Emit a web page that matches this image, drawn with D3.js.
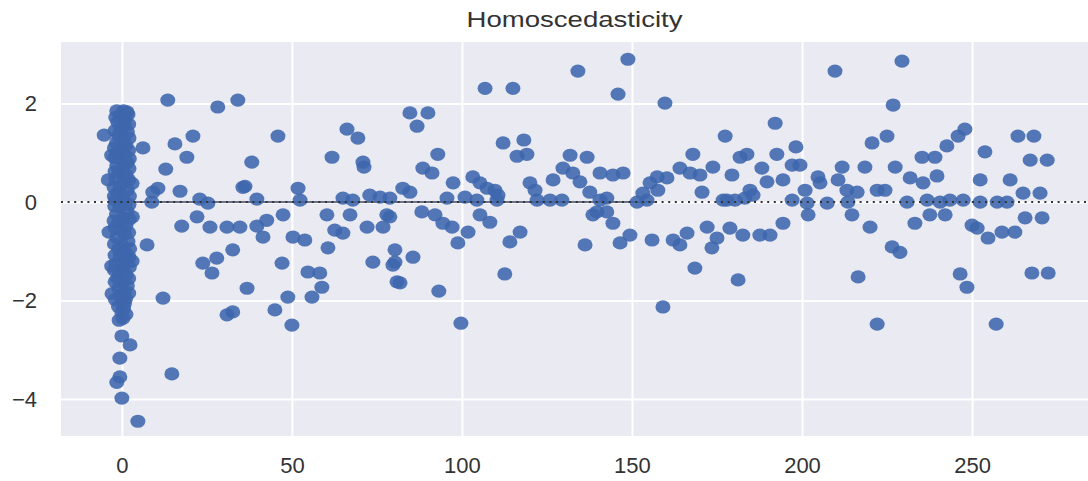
<!DOCTYPE html>
<html>
<head>
<meta charset="utf-8">
<script src="https://cdn.jsdelivr.net/npm/d3@7"></script>
<style>
  body { margin: 0; background: #fff; }
  svg text { font-family: "Liberation Sans", Arial, sans-serif; fill: #333; }
</style>
</head>
<body>
<svg id="chart"></svg>
<script>
const width = 1088
const height = 481
const margin = { top: 42, right: 0, bottom: 45, left: 61 }

const title = 'Homoscedasticity'
const xTicks = [0, 50, 100, 150, 200, 250]
const yTicks = [-4, -2, 0, 2]

// dense column of residuals near x = 0
const clusterPoints = [
  [-1.5, 1.85], [0.5, 1.85], [1.5, 1.83], [-0.5, 1.75], [1.0, 1.70], [-1.2, 1.62], [0.8, 1.55],
  [-0.3, 1.48], [1.6, 1.42], [-5.2, 1.36], [-1.0, 1.35], [0.6, 1.28], [-1.6, 1.20], [1.2, 1.15],
  [-0.2, 1.08], [-1.4, 1.00], [0.9, 0.95], [-0.6, 0.88], [1.5, 0.80], [-1.5, 0.74], [0.3, 0.68],
  [-0.8, 0.60], [1.2, 0.55], [-1.8, 0.48], [-4.0, 0.45], [0.5, 0.40], [-0.5, 0.32], [1.6, 0.25],
  [-1.3, 0.18], [0.2, 0.10], [-1.9, 0.04], [1.0, -0.02], [-0.6, -0.10], [1.5, -0.18], [-1.6, -0.25],
  [0.4, -0.32], [-0.9, -0.40], [1.2, -0.48], [-3.8, -0.61], [-0.3, -0.56], [0.8, -0.65], [-1.5, -0.72],
  [1.8, -0.80], [0.0, -0.88], [-1.0, -0.95], [1.0, -1.02], [-0.4, -1.10], [1.5, -1.18], [-1.7, -1.25],
  [0.5, -1.32], [-0.7, -1.40], [1.2, -1.48], [-1.3, -1.55], [0.2, -1.62], [1.6, -1.70], [-0.9, -1.76],
  [0.7, -1.82], [-2.9, -1.86], [-0.2, -1.90], [1.1, -1.96], [0.0, -2.05], [0.5, -2.15], [0.0, -2.25],
  [0.3, -2.36], [0.0, -2.72], [2.4, -2.90], [-0.6, -3.17], [-0.6, -3.55], [-1.5, -3.66], [0.0, -3.98],
  [1.8, 1.78], [-1.8, 1.72], [2.0, 1.58], [-2.0, 1.45], [2.1, 1.30], [-2.2, 1.10], [2.0, 1.05],
  [-2.1, 0.90], [2.2, 0.88], [-2.0, 0.62], [2.1, 0.68], [-2.3, 0.30], [2.0, 0.45], [-2.2, 0.12],
  [2.2, 0.12], [-2.1, -0.08], [2.1, -0.05], [-2.3, -0.38], [2.2, -0.35], [-2.0, -0.52], [2.0, -0.62],
  [-2.2, -0.85], [2.3, -0.95], [-2.0, -1.08], [2.1, -1.12], [-2.2, -1.38], [2.2, -1.32], [-2.0, -1.62],
  [2.0, -1.55], [-1.9, -1.98], [2.0, -1.85], [-1.0, -2.12], [1.2, -2.28], [-0.8, -2.40], [0.8, -2.05],
  [3.0, 0.38], [3.1, -0.30], [3.0, -1.20], [-3.0, 0.95], [-3.0, -1.30]
]

// residuals spread over the rest of the fitted range
const spreadPoints = [
  [6.2, 1.10], [13.5, 2.07], [28.2, 1.93], [34.1, 2.07], [15.6, 1.18], [20.9, 1.34], [45.9, 1.34],
  [66.2, 1.48], [69.4, 1.30], [19.1, 0.91], [38.2, 0.81], [61.8, 0.91], [70.9, 0.81], [12.9, 0.67],
  [71.2, 0.71], [10.6, 0.28], [9.1, 0.20], [17.1, 0.22], [36.2, 0.32], [51.8, 0.28], [8.8, 0.00],
  [22.9, 0.06], [25.3, -0.02], [39.7, 0.06], [65.0, 0.08], [72.9, 0.14], [75.9, 0.10], [78.8, 0.08],
  [67.9, 0.04], [52.4, 0.04], [35.6, 0.30], [17.6, -0.49], [22.1, -0.30], [25.9, -0.51], [30.9, -0.51],
  [34.7, -0.51], [39.7, -0.49], [42.6, -0.37], [41.5, -0.71], [47.4, -0.26], [60.3, -0.26], [67.1, -0.26],
  [72.1, -0.51], [76.8, -0.51], [78.8, -0.30], [50.3, -0.71], [53.8, -0.77], [62.6, -0.57], [65.0, -0.63],
  [60.6, -0.93], [7.4, -0.87], [32.6, -0.97], [23.8, -1.24], [27.9, -1.14], [26.5, -1.44], [47.1, -1.24],
  [73.8, -1.22], [80.3, -1.22], [54.7, -1.42], [58.2, -1.44], [58.8, -1.73], [55.9, -1.93], [36.8, -1.75],
  [12.1, -1.95], [48.8, -1.93], [80.9, -1.62], [30.9, -2.29], [32.6, -2.23], [45.0, -2.19], [50.0, -2.50],
  [14.7, -3.49], [4.7, -4.45],
  [134.1, 2.66], [148.8, 2.90], [106.8, 2.31], [115.0, 2.31], [145.9, 2.19], [159.7, 2.01], [84.7, 1.81],
  [90.0, 1.81], [86.8, 1.54], [92.9, 0.97], [112.1, 1.20], [118.2, 1.26], [116.2, 0.93], [119.1, 0.97],
  [131.8, 0.95], [136.8, 0.91], [167.9, 0.97], [177.4, 1.34], [181.8, 0.91], [88.5, 0.69], [91.2, 0.59],
  [82.6, 0.28], [84.7, 0.20], [97.4, 0.39], [103.2, 0.51], [105.3, 0.39], [107.4, 0.28], [109.7, 0.24],
  [110.6, 0.14], [120.0, 0.39], [121.5, 0.24], [126.8, 0.45], [129.7, 0.69], [132.6, 0.59], [134.7, 0.41],
  [140.6, 0.59], [144.4, 0.55], [147.4, 0.59], [137.6, 0.20], [140.6, 0.04], [142.6, 0.08], [95.6, 0.08],
  [100.9, 0.10], [104.4, 0.04], [110.3, 0.04], [122.1, 0.04], [125.9, 0.04], [129.4, 0.04], [151.5, 0.00],
  [154.4, 0.04], [155.3, 0.39], [157.4, 0.51], [160.3, 0.49], [164.1, 0.69], [167.1, 0.59], [170.0, 0.55],
  [173.8, 0.71], [179.4, 0.55], [157.6, 0.24], [170.6, 0.20], [177.9, 0.04], [180.3, 0.04], [77.9, -0.26],
  [88.2, -0.20], [92.1, -0.26], [94.4, -0.43], [97.1, -0.51], [105.3, -0.26], [108.2, -0.41], [138.5, -0.26],
  [142.6, -0.20], [144.4, -0.43], [98.8, -0.83], [101.8, -0.61], [114.1, -0.81], [117.1, -0.61], [136.2, -0.87],
  [146.5, -0.83], [149.4, -0.67], [155.9, -0.77], [162.1, -0.77], [164.1, -0.87], [166.2, -0.63], [172.1, -0.51],
  [175.0, -0.73], [173.5, -0.93], [178.8, -0.53], [80.3, -0.97], [79.7, -1.28], [85.6, -1.12], [81.8, -1.64],
  [93.2, -1.81], [112.6, -1.46], [168.5, -1.34], [181.2, -1.58], [159.1, -2.13], [99.7, -2.46],
  [139.7, -0.20], [153.2, 0.18], [176.8, 0.04], [183.2, 0.08], [185.6, 0.14],
  [209.7, 2.66], [229.4, 2.86], [226.8, 1.97], [192.1, 1.60], [183.8, 0.97], [192.6, 0.97], [198.2, 1.12],
  [220.6, 1.20], [225.0, 1.34], [235.3, 0.91], [239.1, 0.91], [242.6, 1.14], [245.9, 1.34], [247.9, 1.48],
  [253.8, 1.02], [263.5, 1.34], [268.2, 1.34], [267.1, 0.85], [272.1, 0.85], [188.2, 0.69], [189.7, 0.41],
  [194.4, 0.45], [197.1, 0.75], [199.4, 0.75], [204.7, 0.51], [205.3, 0.39], [211.8, 0.71], [218.5, 0.71],
  [227.4, 0.71], [239.7, 0.53], [231.8, 0.49], [235.6, 0.39], [210.6, 0.45], [213.2, 0.24], [216.2, 0.20],
  [222.1, 0.24], [224.4, 0.24], [200.9, 0.24], [184.7, 0.24], [197.1, 0.04], [201.5, -0.02], [207.4, -0.02],
  [213.5, 0.00], [230.9, 0.00], [236.8, 0.04], [240.6, 0.00], [243.5, 0.04], [247.4, 0.04], [252.4, 0.00],
  [257.4, 0.00], [260.3, 0.00], [201.8, -0.26], [214.7, -0.26], [237.6, -0.26], [242.1, -0.26], [194.4, -0.43],
  [182.6, -0.67], [187.6, -0.67], [190.6, -0.67], [220.0, -0.51], [233.2, -0.43], [250.0, -0.47], [251.5, -0.53],
  [254.7, -0.73], [258.8, -0.61], [262.6, -0.61], [265.6, -0.32], [270.6, -0.32], [265.0, 0.18], [270.0, 0.18],
  [252.4, 0.45], [261.2, 0.45], [226.5, -0.91], [228.8, -1.02], [216.5, -1.52], [246.5, -1.46], [248.5, -1.73],
  [267.6, -1.44], [272.4, -1.44], [222.1, -2.48], [257.1, -2.48]
]

// stretch of the zero line that shows dark under the dots
const zeroLineDark = [2, 157]

const points = clusterPoints.concat(spreadPoints)

const svg = d3.select('#chart')
  .attr('width', width)
  .attr('height', height)

const innerW = width - margin.left - margin.right
const innerH = height - margin.top - margin.bottom

const x = d3.scaleLinear()
  .domain([-17.9, 284.1])
  .range([margin.left, width - margin.right])

const y = d3.scaleLinear()
  .domain([-4.75, 3.25])
  .range([height - margin.bottom, margin.top])

// background
svg.append('rect')
  .attr('x', margin.left)
  .attr('y', margin.top)
  .attr('width', innerW)
  .attr('height', innerH)
  .attr('fill', '#eaeaf2')

// grid + tick labels
const xAxis = svg.append('g')
  .attr('transform', `translate(0, ${height - margin.bottom})`)
  .call(d3.axisBottom(x).tickValues(xTicks).tickSize(-innerH).tickPadding(21).tickFormat(d3.format('d')))

const yAxis = svg.append('g')
  .attr('transform', `translate(${margin.left}, 0)`)
  .call(d3.axisLeft(y).tickValues(yTicks).tickSize(-innerW).tickPadding(24)
    .tickFormat(d => d < 0 ? '\u2212' + Math.abs(d) : d))

for (const g of [xAxis, yAxis]) {
  g.select('.domain').remove()
  g.selectAll('line').attr('stroke', '#fff').attr('stroke-width', 2)
  g.selectAll('text')
    .style('font-size', '22px')
    .attr('fill', '#333')
}

// zero reference lines
svg.append('line')
  .attr('x1', x(zeroLineDark[0]))
  .attr('x2', x(zeroLineDark[1]))
  .attr('y1', y(0))
  .attr('y2', y(0))
  .attr('stroke', '#3a4566')
  .attr('stroke-width', 1.6)

// points
svg.append('g')
  .selectAll('ellipse')
  .data(points)
  .join('ellipse')
  .attr('cx', d => x(d[0]))
  .attr('cy', d => y(d[1]))
  .attr('rx', 7.5)
  .attr('ry', 6.6)
  .attr('fill', '#3d67ad')
  .attr('fill-opacity', 0.88)

svg.append('line')
  .attr('x1', margin.left)
  .attr('x2', width - margin.right)
  .attr('y1', y(0))
  .attr('y2', y(0))
  .attr('stroke', '#333')
  .attr('stroke-width', 2)
  .attr('stroke-dasharray', '2,4.6')

svg.append('text')
  .attr('x', margin.left + innerW / 2)
  .attr('y', 27)
  .attr('text-anchor', 'middle')
  .attr('textLength', 216)
  .attr('lengthAdjust', 'spacingAndGlyphs')
  .style('font-size', '22px')
  .text(title)
</script>
</body>
</html>
